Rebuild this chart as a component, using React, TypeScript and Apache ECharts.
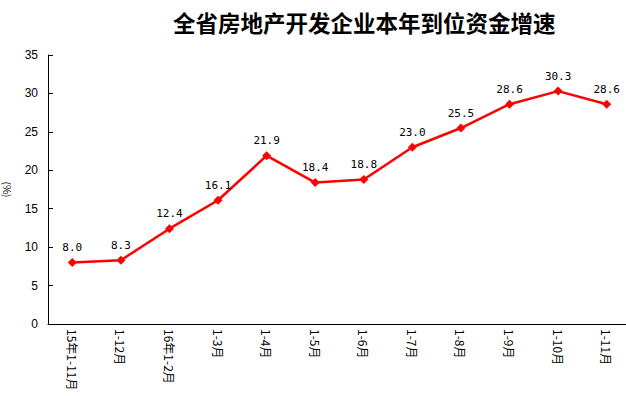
import React, { useEffect, useRef } from "react";
import * as echarts from "echarts";

const categories = ["15年1-11月", "1-12月", "16年1-2月", "1-3月", "1-4月", "1-5月", "1-6月", "1-7月", "1-8月", "1-9月", "1-10月", "1-11月"];
const growth = [8.0, 8.3, 12.4, 16.1, 21.9, 18.4, 18.8, 23.0, 25.5, 28.6, 30.3, 28.6];
const titleText = "全省房地产开发企业本年到位资金增速";
const yName = "(%)";

export default function App() {
  const ref = useRef<HTMLDivElement>(null);
  useEffect(() => {
    document.body.style.margin = "0";
    const chart = echarts.init(ref.current!, null, { renderer: "svg" });
    chart.setOption({
      animation: false,
      backgroundColor: "#ffffff",
      title: {
        text: titleText,
        left: 168,
        top: 6,
        textStyle: { fontSize: 22.5, fontWeight: "bold", color: "#000", fontFamily: "Noto Sans CJK SC" },
      },
      grid: { left: 48, top: 55, width: 583, height: 269, containLabel: false, outerBoundsMode: "none" },
      xAxis: {
        type: "category",
        data: categories,
        boundaryGap: true,
        axisLine: { lineStyle: { color: "#000", width: 1 } },
        axisTick: { inside: true, length: 5, lineStyle: { color: "#000" } },
        axisLabel: { rotate: -90, interval: 0, fontSize: 12, color: "#000", margin: 5, fontFamily: "Noto Sans CJK SC" },
      },
      yAxis: {
        type: "value",
        min: 0,
        max: 35,
        interval: 5,
        name: yName,
        nameLocation: "middle",
        nameRotate: -90,
        nameGap: 36,
        nameTextStyle: { fontSize: 10, color: "#000", fontFamily: "Noto Sans CJK SC" },
        axisLine: { show: true, lineStyle: { color: "#000", width: 1 } },
        axisTick: { show: true, inside: true, length: 5, lineStyle: { color: "#000" } },
        splitLine: { show: false },
        axisLabel: { fontSize: 12, color: "#000", margin: 10, fontFamily: "Liberation Sans Narrow, Arial" },
      },
      series: [
        {
          type: "line",
          data: growth,
          symbol: "diamond",
          symbolSize: 9,
          lineStyle: { color: "#ff0000", width: 2.5 },
          itemStyle: { color: "#ff0000" },
          label: {
            show: true,
            position: "top",
            color: "#000",
            fontSize: 11,
            fontFamily: "DejaVu Sans Mono",
            formatter: (p: any) => Number(p.value).toFixed(1),
          },
        },
      ],
    });
    return () => chart.dispose();
  }, []);
  return <div ref={ref} style={{ position: "absolute", left: 0, top: 0, width: 626, height: 396 }} />;
}
